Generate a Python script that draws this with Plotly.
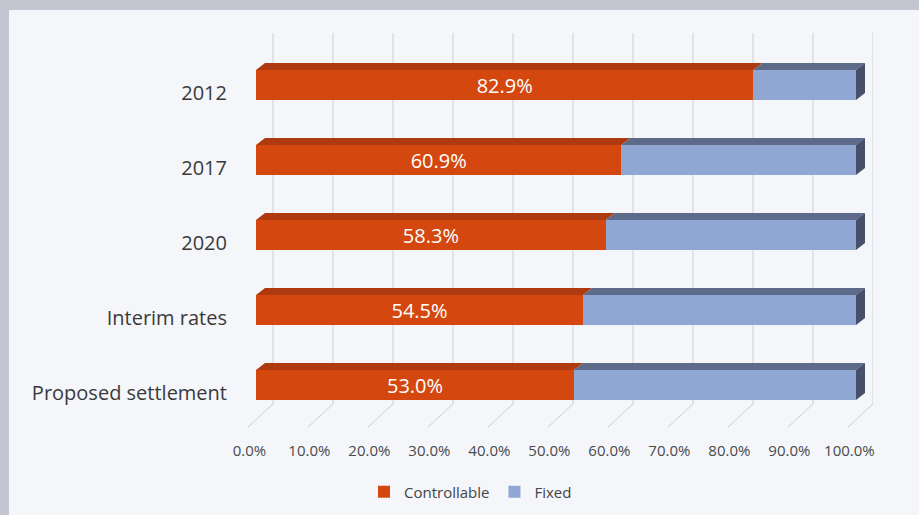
import plotly.graph_objects as go

categories = ["2012", "2017", "2020", "Interim rates", "Proposed settlement"]
controllable = [82.9, 60.9, 58.3, 54.5, 53.0]
fixed = [round(100 - v, 1) for v in controllable]
x_ticks = [0, 10, 20, 30, 40, 50, 60, 70, 80, 90, 100]
x_ticktext = [f"{v:.1f}%" for v in x_ticks]

ORANGE = "#D4470F"
ORANGE_TOP = "#B03A10"
BLUE = "#90A7D3"
BLUE_TOP = "#5D6A89"
SIDE = "#46506A"
GRID = "#CDCFD6"
BG = "#F4F6FA"
FRAME = "#C3C6D1"

W, H = 919, 515
PX = 6.0                  # pixels per percentage point (100% = 600 px)
XMIN = -1.5
ML, MR, MT, MB = 256 - int(-XMIN * PX), 46, 33, 111
PW = W - ML - MR
PH = H - MT - MB
XMAX = XMIN + PW / PX
pos = list(range(len(categories)))
UNIT = 75.0
y_top = -52 / UNIT
y_bot = y_top + PH / UNIT

fig = go.Figure()
fig.add_trace(go.Bar(
    y=pos, x=controllable, orientation="h", name="Controllable",
    marker=dict(color=ORANGE, line=dict(width=0)), width=0.4,
    text=[f"{v:.1f}%" for v in controllable], textposition="inside",
    insidetextanchor="middle", constraintext="none",
    textfont=dict(family="Open Sans", size=20, color="white"),
    hoverinfo="skip",
))
fig.add_trace(go.Bar(
    y=pos, x=fixed, orientation="h", name="Fixed",
    marker=dict(color=BLUE, line=dict(width=0)), width=0.4,
    hoverinfo="skip",
))

shapes = []
# white photographed chart area over grey frame
shapes.append(dict(type="rect", xref="paper", yref="paper", layer="below",
                   x0=(9 - ML) / PW, x1=(W - ML) / PW,
                   y0=-(MB) / PH, y1=1 + (MT - 10) / PH,
                   fillcolor=BG, line=dict(width=0)))
# 3D back-wall gridlines with floor diagonals
depth_x = 17 / PX
floor_y = -(427 - (MT + PH)) / PH
for v in x_ticks:
    shapes.append(dict(type="path", xref="x", yref="paper", layer="below",
                       path=f"M {v + depth_x},1 L {v + depth_x},0 L {v - 1.33},{floor_y}",
                       line=dict(color=GRID, width=1)))
# 3D faces of the bars
dx, dy = 1.5, 7 / UNIT
for i, c in enumerate(controllable):
    t = i - 0.2
    b = i + 0.2
    shapes.append(dict(type="path", xref="x", yref="y", line=dict(width=0), fillcolor=ORANGE_TOP,
                       path=f"M 0,{t} L {c},{t} L {c + dx},{t - dy} L {dx},{t - dy} Z"))
    shapes.append(dict(type="path", xref="x", yref="y", line=dict(width=0), fillcolor=BLUE_TOP,
                       path=f"M {c},{t} L 100,{t} L {100 + dx},{t - dy} L {c + dx},{t - dy} Z"))
    shapes.append(dict(type="path", xref="x", yref="y", line=dict(width=0), fillcolor=SIDE,
                       path=f"M 100,{t} L {100 + dx},{t - dy} L {100 + dx},{b - dy} L 100,{b} Z"))

fig.update_layout(
    width=W, height=H,
    margin=dict(l=ML, r=MR, t=MT, b=MB, autoexpand=False),
    paper_bgcolor=FRAME, plot_bgcolor="rgba(0,0,0,0)",
    barmode="stack", bargap=0.6,
    shapes=shapes,
    showlegend=True,
    legend=dict(orientation="h", traceorder="normal",
                x=(364 - ML) / PW, xanchor="left",
                y=-(492 - (MT + PH)) / PH, yanchor="middle",
                font=dict(family="Open Sans", size=15, color="#444444"),
                itemwidth=30, bgcolor="rgba(0,0,0,0)"),
    xaxis=dict(range=[XMIN, XMAX], tickvals=[v - 1.1 for v in x_ticks], ticktext=x_ticktext,
               showgrid=False, zeroline=False, showline=False, ticks="",
               ticklabelstandoff=36,
               tickfont=dict(family="Open Sans", size=15, color="#4A4A4A")),
    yaxis=dict(range=[y_bot, y_top], tickvals=[p + 0.11 for p in pos], ticktext=categories,
               showgrid=False, zeroline=False, showline=False, ticks="",
               ticklabelstandoff=19,
               tickfont=dict(family="Open Sans", size=20, color="#3A3A3A")),
)

fig.write_html("out.html", config={"displayModeBar": False},
               post_script="document.body.style.margin='0';document.body.style.background='#C3C6D1';")
